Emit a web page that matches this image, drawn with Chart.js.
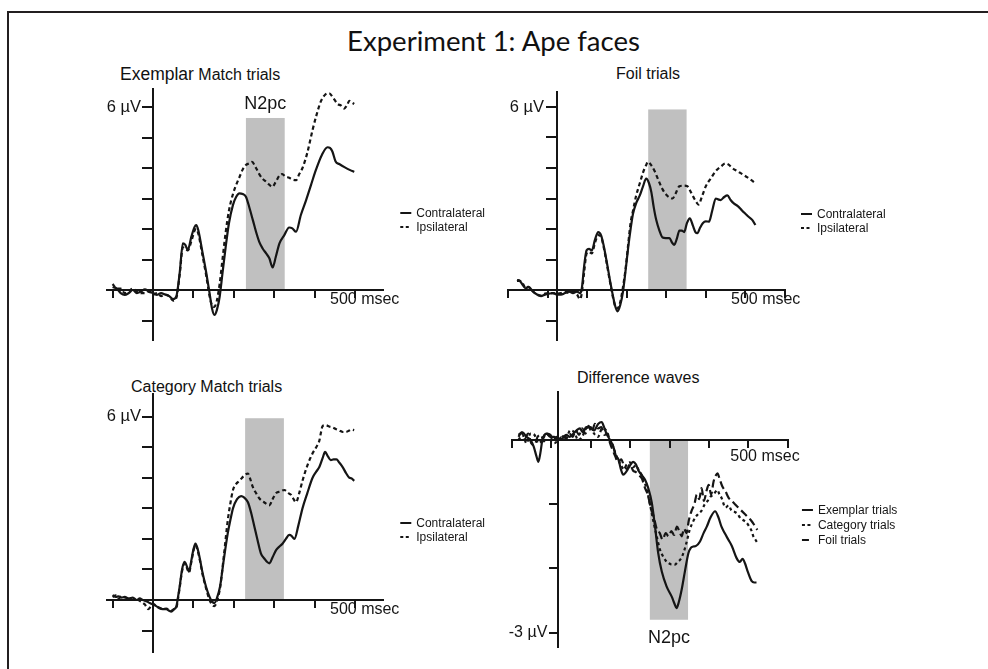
<!DOCTYPE html>
<html>
<head>
<meta charset="utf-8">
<script src="https://cdn.jsdelivr.net/npm/chart.js@4"></script>
<style>
  body { margin: 0; background: #fff; width: 988px; height: 669px; overflow: hidden; position: relative; font-family: "Liberation Sans", Arial, sans-serif; }
  canvas { position: absolute; left: 0; top: 0; }
  .frame { position: absolute; left: 7px; top: 11px; right: -10px; bottom: -10px; border-left: 2px solid #231f20; border-top: 2px solid #231f20; }
  .t { position: absolute; white-space: nowrap; color: #111; line-height: 1; }
</style>
</head>
<body>
<div class="frame"></div>
<div class="t" style="left:347px;top:28px;font-family:Lato;font-size:26px;transform:scaleX(1.06);transform-origin:0 0;">Experiment 1: Ape faces</div>
<div class="t" style="left:120px;top:66px;font-size:16px;"><span style="font-size:17.5px">Exemplar</span> Match trials</div>
<div class="t" style="left:616px;top:66px;font-size:16px;">Foil trials</div>
<div class="t" style="left:131px;top:379px;font-size:16px;">Category Match trials</div>
<div class="t" style="left:577px;top:370px;font-size:16px;">Difference waves</div>

<canvas id="c1" width="988" height="669"></canvas>
<canvas id="c2" width="988" height="669"></canvas>
<canvas id="c3" width="988" height="669"></canvas>
<canvas id="c4" width="988" height="669"></canvas>

<script>
// ---- data: [msec, microvolts] ----
const exemplarContra = [[-100,0.10],[-90,0.05],[-80,-0.10],[-70,-0.16],[-60,-0.10],[-50,0.00],[-40,-0.10],[-30,-0.05],[-20,0.02],[-10,-0.05],[0,-0.10],[10,-0.16],[20,-0.10],[30,-0.15],[40,-0.20],[50,-0.30],[58,-0.20],[66,0.55],[74,1.53],[80,1.48],[86,1.31],[95,1.75],[103,2.07],[107,2.13],[112,1.97],[123,1.20],[132,0.55],[140,-0.10],[146,-0.60],[152,-0.82],[158,-0.66],[165,-0.22],[172,0.55],[180,1.42],[188,2.19],[198,2.79],[206,3.06],[214,3.17],[222,3.15],[230,3.06],[238,2.73],[247,2.30],[255,1.91],[263,1.58],[271,1.37],[280,1.20],[288,1.04],[296,0.74],[304,1.09],[313,1.53],[325,1.80],[337,2.05],[345,2.02],[354,1.91],[366,2.46],[379,2.95],[391,3.44],[403,3.93],[418,4.43],[432,4.68],[438,4.66],[444,4.54],[452,4.21],[461,4.13],[475,4.02],[488,3.93],[498,3.87]];
const exemplarIpsi = [[-100,0.20],[-90,0.05],[-80,0.05],[-70,-0.10],[-60,-0.05],[-50,0.05],[-40,-0.05],[-30,-0.10],[-20,-0.10],[-10,-0.05],[0,-0.15],[10,-0.10],[20,-0.20],[30,-0.15],[40,-0.20],[50,-0.35],[58,-0.25],[66,0.50],[74,1.40],[80,1.35],[86,1.30],[95,1.60],[103,1.95],[107,2.00],[112,1.85],[123,1.10],[132,0.45],[140,-0.20],[146,-0.50],[152,-0.55],[158,-0.35],[165,0.20],[172,1.00],[180,1.90],[188,2.60],[198,3.15],[206,3.45],[214,3.70],[222,3.95],[230,4.10],[238,4.15],[245,4.20],[255,4.00],[263,3.80],[271,3.65],[280,3.55],[288,3.45],[295,3.38],[304,3.55],[313,3.75],[320,3.80],[328,3.72],[337,3.68],[345,3.62],[354,3.60],[362,3.80],[370,4.00],[382,4.50],[395,5.25],[405,5.75],[416,6.20],[426,6.40],[436,6.45],[446,6.30],[457,6.10],[465,6.05],[473,5.95],[480,6.05],[486,6.20],[492,6.15],[498,6.10]];

const foilContra = [[-100,0.33],[-93,0.30],[-85,0.15],[-78,0.05],[-72,0.10],[-66,0.05],[-60,-0.05],[-50,-0.15],[-40,-0.20],[-30,-0.15],[-20,-0.12],[-10,-0.10],[0,-0.15],[10,-0.15],[20,-0.10],[30,-0.05],[40,-0.10],[50,-0.05],[58,-0.10],[62,0.05],[68,0.80],[74,1.30],[80,1.35],[87,1.30],[95,1.65],[103,1.90],[110,1.80],[116,1.50],[124,0.95],[132,0.35],[140,-0.20],[146,-0.55],[151,-0.70],[158,-0.50],[165,-0.05],[172,0.70],[178,1.40],[184,2.00],[190,2.50],[198,2.85],[207,3.10],[215,3.40],[223,3.65],[230,3.50],[236,3.20],[242,2.70],[248,2.30],[256,1.95],[264,1.72],[272,1.70],[281,1.70],[288,1.55],[293,1.48],[300,1.70],[306,1.95],[312,1.95],[318,1.90],[325,2.20],[332,2.35],[340,2.10],[346,1.90],[351,1.86],[358,2.05],[365,2.20],[372,2.25],[380,2.24],[388,2.60],[397,3.00],[403,2.97],[409,2.95],[418,3.05],[426,3.10],[434,2.95],[442,2.84],[452,2.75],[463,2.60],[471,2.50],[479,2.40],[488,2.30],[496,2.13]];
const foilIpsi = [[-100,0.30],[-93,0.30],[-85,0.20],[-78,0.05],[-72,0.10],[-66,0.05],[-60,-0.05],[-50,-0.15],[-40,-0.18],[-30,-0.12],[-20,-0.10],[-10,-0.10],[0,-0.12],[10,-0.10],[20,-0.05],[30,-0.10],[40,-0.05],[50,-0.15],[58,-0.30],[62,-0.10],[68,0.60],[74,1.20],[80,1.25],[87,1.20],[95,1.55],[103,1.80],[110,1.75],[116,1.45],[124,0.90],[132,0.30],[140,-0.25],[146,-0.55],[151,-0.60],[158,-0.40],[165,0.10],[172,0.75],[178,1.50],[184,2.20],[190,2.60],[198,3.10],[207,3.50],[215,3.85],[223,4.10],[227,4.20],[235,4.10],[244,3.90],[252,3.65],[264,3.30],[275,3.10],[289,3.00],[296,3.15],[306,3.40],[316,3.42],[326,3.40],[335,3.20],[343,3.00],[350,2.85],[354,2.80],[362,3.05],[372,3.40],[384,3.65],[397,3.90],[410,4.05],[421,4.15],[430,4.10],[438,4.00],[450,3.90],[463,3.80],[475,3.70],[486,3.60],[496,3.50]];

const categoryContra = [[-100,0.16],[-92,0.10],[-85,0.12],[-78,0.08],[-70,0.10],[-60,0.05],[-50,0.08],[-40,0.00],[-33,0.05],[-25,0.00],[-15,-0.05],[-8,-0.10],[0,-0.15],[8,-0.20],[16,-0.27],[24,-0.30],[33,-0.30],[40,-0.35],[45,-0.38],[52,-0.30],[58,-0.20],[62,0.10],[66,0.44],[72,1.00],[78,1.25],[84,1.10],[89,0.93],[95,1.30],[100,1.65],[105,1.85],[110,1.70],[116,1.35],[123,0.87],[132,0.40],[140,0.10],[146,-0.05],[152,-0.10],[158,0.05],[166,0.44],[175,1.30],[185,2.18],[192,2.65],[198,3.00],[208,3.30],[218,3.40],[226,3.35],[235,3.20],[243,2.85],[251,2.40],[259,1.95],[267,1.53],[276,1.35],[282,1.25],[288,1.20],[296,1.40],[305,1.64],[313,1.75],[321,1.85],[329,2.00],[337,2.13],[343,2.10],[350,2.00],[360,2.45],[370,3.00],[382,3.50],[395,4.00],[404,4.20],[412,4.36],[420,4.65],[426,4.85],[433,4.70],[440,4.58],[447,4.60],[454,4.60],[461,4.50],[469,4.36],[478,4.15],[486,4.00],[492,3.98],[498,3.90]];
const categoryIpsi = [[-100,0.10],[-92,0.15],[-85,0.05],[-78,0.12],[-70,0.08],[-60,0.05],[-50,0.00],[-40,0.02],[-30,-0.05],[-20,-0.15],[-12,-0.30],[-5,-0.20],[0,-0.12],[8,-0.20],[16,-0.25],[24,-0.30],[33,-0.28],[40,-0.32],[45,-0.35],[52,-0.30],[58,-0.25],[62,0.05],[66,0.40],[72,0.95],[78,1.20],[84,1.05],[89,0.90],[95,1.25],[100,1.60],[105,1.80],[110,1.65],[116,1.30],[123,0.82],[132,0.35],[140,0.00],[146,-0.15],[152,-0.20],[158,-0.05],[166,0.40],[175,1.40],[185,2.60],[192,3.20],[198,3.60],[206,3.80],[214,3.90],[224,4.05],[235,4.14],[241,3.95],[247,3.70],[255,3.50],[263,3.33],[275,3.20],[288,3.10],[296,3.30],[305,3.50],[315,3.55],[325,3.60],[335,3.50],[342,3.44],[348,3.30],[354,3.20],[362,3.50],[370,3.90],[382,4.40],[395,4.80],[404,5.00],[412,5.23],[416,5.50],[420,5.70],[428,5.72],[436,5.68],[444,5.65],[452,5.60],[461,5.55],[470,5.50],[477,5.50],[486,5.55],[492,5.58],[498,5.56]];

const diffExemplar = [[-100,0.08],[-90,0.12],[-80,0.05],[-70,0.00],[-62,-0.10],[-55,-0.25],[-50,-0.34],[-45,-0.20],[-40,0.00],[-30,0.10],[-20,0.05],[-10,0.05],[0,0.00],[10,0.02],[20,0.08],[29,0.05],[38,0.10],[46,0.15],[54,0.18],[62,0.12],[70,0.20],[80,0.20],[90,0.15],[100,0.25],[109,0.28],[115,0.20],[121,0.10],[130,0.00],[138,-0.10],[145,-0.25],[151,-0.30],[157,-0.45],[163,-0.54],[170,-0.50],[176,-0.44],[182,-0.38],[188,-0.34],[195,-0.38],[201,-0.47],[210,-0.55],[218,-0.62],[226,-0.75],[235,-0.98],[243,-1.35],[251,-1.76],[260,-2.05],[272,-2.28],[285,-2.44],[292,-2.55],[297,-2.62],[303,-2.52],[310,-2.33],[318,-2.05],[327,-1.76],[333,-1.68],[339,-1.66],[346,-1.65],[356,-1.58],[365,-1.45],[373,-1.35],[383,-1.20],[394,-1.11],[402,-1.20],[410,-1.35],[418,-1.45],[427,-1.55],[436,-1.65],[448,-1.84],[456,-1.90],[463,-1.85],[469,-1.92],[476,-2.05],[486,-2.20],[492,-2.22],[498,-2.22]];
const diffCategory = [[-100,0.00],[-90,0.08],[-80,-0.05],[-70,0.10],[-60,0.08],[-50,-0.05],[-40,0.00],[-30,0.10],[-20,0.05],[-10,-0.05],[0,0.00],[10,0.05],[20,0.05],[30,0.15],[40,0.12],[50,0.00],[60,0.05],[70,0.18],[80,0.20],[90,0.10],[100,0.05],[110,0.18],[120,0.15],[128,0.00],[135,-0.05],[143,-0.20],[150,-0.30],[158,-0.40],[165,-0.45],[172,-0.38],[180,-0.35],[188,-0.42],[195,-0.40],[203,-0.48],[210,-0.55],[218,-0.68],[225,-0.85],[232,-1.05],[240,-1.30],[248,-1.52],[255,-1.70],[262,-1.80],[270,-1.88],[278,-1.92],[285,-1.94],[293,-1.94],[300,-1.90],[308,-1.85],[315,-1.75],[322,-1.60],[330,-1.40],[338,-1.28],[345,-1.20],[352,-1.15],[360,-1.10],[368,-1.00],[375,-0.95],[383,-0.88],[390,-0.85],[396,-0.80],[400,-0.78],[405,-0.85],[410,-0.90],[420,-1.05],[428,-1.02],[435,-1.10],[443,-1.12],[450,-1.15],[458,-1.22],[465,-1.25],[472,-1.28],[480,-1.35],[486,-1.42],[490,-1.50],[495,-1.55],[500,-1.60]];
const diffFoil = [[-100,0.05],[-92,0.12],[-84,0.02],[-76,0.10],[-68,-0.05],[-60,-0.08],[-52,0.05],[-44,0.08],[-36,-0.02],[-28,0.10],[-20,0.08],[-12,0.00],[-4,0.05],[4,0.00],[12,0.06],[20,0.02],[28,0.10],[36,0.05],[44,0.15],[52,0.08],[60,0.18],[68,0.10],[76,0.22],[84,0.12],[92,0.25],[100,0.18],[108,0.20],[116,0.08],[124,0.10],[130,-0.05],[136,-0.15],[143,-0.25],[150,-0.35],[158,-0.30],[165,-0.40],[172,-0.45],[180,-0.38],[188,-0.48],[195,-0.50],[203,-0.55],[210,-0.60],[218,-0.75],[225,-0.85],[232,-1.05],[240,-1.20],[248,-1.40],[255,-1.45],[262,-1.55],[270,-1.45],[277,-1.50],[284,-1.42],[291,-1.48],[298,-1.35],[304,-1.42],[310,-1.50],[316,-1.38],[322,-1.45],[328,-1.25],[335,-1.10],[342,-1.00],[348,-0.85],[354,-0.92],[360,-0.75],[366,-0.95],[372,-0.80],[378,-0.70],[384,-0.85],[390,-0.65],[396,-0.55],[400,-0.52],[405,-0.60],[412,-0.72],[420,-0.80],[428,-0.90],[436,-0.95],[444,-1.00],[452,-1.05],[460,-1.10],[468,-1.15],[476,-1.20],[484,-1.25],[492,-1.32],[500,-1.40]];

// N2pc shading windows: [start ms, end ms], [from uV, to uV]
const windowExemplar = [230, 326], levelExemplar = [0, 5.64];
const windowFoil = [228, 324], levelFoil = [0, 5.92];
const windowCategory = [228, 324], levelCategory = [0, 5.95];
const windowDiff = [230, 326], levelDiff = [0, -2.8];

const xTicksStep = 100;
const yTicksStep = 1;

// ---- layout helpers ----
const W = 988, H = 669;
const INK = '#151515';

function padFor(p) {
  return {
    left: p.x0 + p.xMin * p.pxMs,
    right: W - (p.x0 + p.xMax * p.pxMs),
    top: p.y0 - p.yMax * p.pxUV,
    bottom: H - (p.y0 - p.yMin * p.pxUV)
  };
}

const pts = arr => arr.map(d => ({ x: d[0], y: d[1] }));

function line(label, data, dash) {
  return {
    label, data: pts(data),
    borderColor: INK, borderWidth: 2.2, borderDash: dash || [],
    pointRadius: 0, fill: false, cubicInterpolationMode: 'monotone'
  };
}

const erpPlugin = {
  id: 'erp',
  beforeDraw(chart, args, o) {
    const { ctx, scales: { x, y } } = chart;
    const xa = x.getPixelForValue(o.win[0]), xb = x.getPixelForValue(o.win[1]);
    const ya = y.getPixelForValue(o.level[0]), yb = y.getPixelForValue(o.level[1]);
    ctx.save();
    ctx.fillStyle = '#c0c0c0';
    ctx.fillRect(xa, Math.min(ya, yb), xb - xa, Math.abs(yb - ya));
    ctx.restore();
  },
  afterDraw(chart, args, o) {
    const { ctx, chartArea, scales: { x, y } } = chart;
    ctx.save();
    ctx.fillStyle = INK;
    ctx.textBaseline = 'middle';
    (o.labels || []).forEach(l => {
      ctx.font = l.font || '16px "Liberation Sans"';
      ctx.textAlign = l.align || 'left';
      ctx.fillText(l.text, x.getPixelForValue(l.t) + (l.dx || 0), y.getPixelForValue(l.v) + (l.dy || 0));
    });
    // legend
    const lg = o.legend;
    const y0 = y.getPixelForValue(0) + lg.dy;
    ctx.font = '12px "Liberation Sans"';
    ctx.textAlign = 'left';
    chart.data.datasets.forEach((ds, i) => {
      const ly = y0 + i * lg.gap;
      const lx = chartArea.right + lg.dx;
      ctx.strokeStyle = INK;
      ctx.lineWidth = 2;
      ctx.setLineDash(ds.legendDash || []);
      ctx.beginPath();
      ctx.moveTo(lx, ly);
      ctx.lineTo(lx + (ds.legendLen || 11), ly);
      ctx.stroke();
      ctx.setLineDash([]);
      ctx.fillText(ds.label, lx + 16, ly + 1);
    });
    ctx.restore();
  }
};

function makeChart(id, p, datasets, extra) {
  const axisGrid = len => ({ drawOnChartArea: false, drawTicks: true, tickLength: len, color: INK, lineWidth: 2 });
  const border = { display: true, color: INK, width: 2 };
  return new Chart(document.getElementById(id), {
    type: 'line',
    data: { datasets },
    options: {
      responsive: false, animation: false, devicePixelRatio: 1,
      layout: { padding: padFor(p) },
      plugins: { legend: { display: false }, tooltip: { enabled: false }, erp: extra },
      scales: {
        x: {
          type: 'linear', min: p.xMin, max: p.xMax, position: { y: 0 },
          afterFit: s => { s.height = 0; },
          ticks: { display: false, stepSize: xTicksStep, includeBounds: false },
          grid: axisGrid(p.xTick), border
        },
        y: {
          type: 'linear', min: p.yMin, max: p.yMax, position: { x: 0 },
          afterFit: s => { s.width = 0; },
          ticks: { display: false, stepSize: yTicksStep, includeBounds: false },
          grid: axisGrid(p.yTick), border
        }
      }
    },
    plugins: [erpPlugin]
  });
}

const ipsiDash = [4, 3];

makeChart('c1',
  { x0: 153, pxMs: 0.404, xMin: -115, xMax: 570, y0: 290, pxUV: 30.5, yMin: -1.65, yMax: 6.6, xTick: 7, yTick: 10 },
  [Object.assign(line('Contralateral', exemplarContra), { legendDash: [] }),
   Object.assign(line('Ipsilateral', exemplarIpsi, ipsiDash), { legendDash: [3, 2.5] })],
  { win: windowExemplar, level: levelExemplar, legend: { dx: 17, dy: -77, gap: 14 },
    labels: [
      { text: '6 \u00b5V', t: 0, v: 6, dx: -12, align: 'right', font: '16.5px "Liberation Sans"' },
      { text: '500 msec', t: 500, v: 0, dx: -25, dy: 10 },
      { text: 'N2pc', t: (windowExemplar[0] + windowExemplar[1]) / 2, v: levelExemplar[1], dy: -14, align: 'center', font: '18px "Liberation Sans"' }
    ] });

makeChart('c2',
  { x0: 557, pxMs: 0.4, xMin: -122, xMax: 570, y0: 290, pxUV: 30.5, yMin: -1.65, yMax: 6.5, xTick: 7, yTick: 10 },
  [Object.assign(line('Contralateral', foilContra), { legendDash: [] }),
   Object.assign(line('Ipsilateral', foilIpsi, ipsiDash), { legendDash: [3, 2.5] })],
  { win: windowFoil, level: levelFoil, legend: { dx: 16, dy: -76, gap: 14 },
    labels: [
      { text: '6 \u00b5V', t: 0, v: 6, dx: -13, align: 'right', font: '16.5px "Liberation Sans"' },
      { text: '500 msec', t: 500, v: 0, dx: -26, dy: 10 }
    ] });

makeChart('c3',
  { x0: 153, pxMs: 0.404, xMin: -115, xMax: 570, y0: 600, pxUV: 30.55, yMin: -1.7, yMax: 6.75, xTick: 7, yTick: 10 },
  [Object.assign(line('Contralateral', categoryContra), { legendDash: [] }),
   Object.assign(line('Ipsilateral', categoryIpsi, ipsiDash), { legendDash: [3, 2.5] })],
  { win: windowCategory, level: levelCategory, legend: { dx: 17, dy: -77, gap: 14 },
    labels: [
      { text: '6 \u00b5V', t: 0, v: 6, dx: -12, align: 'right', font: '16.5px "Liberation Sans"' },
      { text: '500 msec', t: 500, v: 0, dx: -25, dy: 10 }
    ] });

makeChart('c4',
  { x0: 558.3, pxMs: 0.398, xMin: -117, xMax: 577, y0: 440, pxUV: 64.2, yMin: -3.22, yMax: 0.75, xTick: 7, yTick: 8 },
  [Object.assign(line('Exemplar trials', diffExemplar), { legendDash: [] }),
   Object.assign(line('Category trials', diffCategory, [3, 3]), { legendDash: [3, 2.5] }),
   Object.assign(line('Foil trials', diffFoil, [8, 4]), { legendDash: [], legendLen: 7 })],
  { win: windowDiff, level: levelDiff, legend: { dx: 14, dy: 70, gap: 15 },
    labels: [
      { text: '-3 \u00b5V', t: 0, v: -3, dx: -11, align: 'right' },
      { text: '500 msec', t: 500, v: 0, dx: -27, dy: 17 },
      { text: 'N2pc', t: (windowDiff[0] + windowDiff[1]) / 2, v: levelDiff[1], dy: 18, align: 'center', font: '18px "Liberation Sans"' }
    ] });
</script>
</body>
</html>
